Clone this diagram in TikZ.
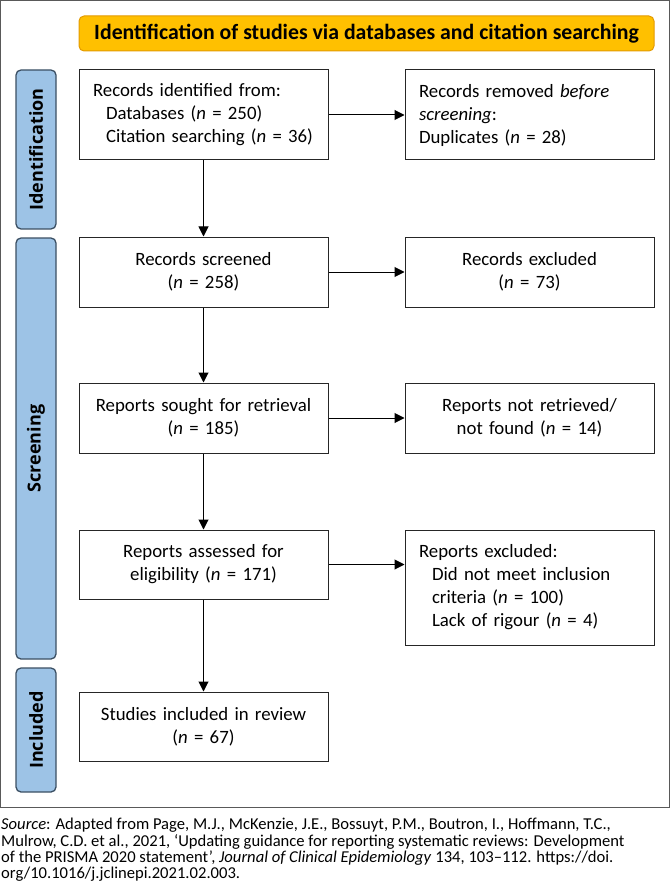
\documentclass[tikz,border=0pt]{standalone}
\usepackage{fontspec}
\setmainfont{Carlito}
\newfontfamily\barfont{Open Sans}
\usetikzlibrary{arrows.meta}
\definecolor{barfill}{HTML}{9DC3E6}
\definecolor{barline}{HTML}{3B4F63}
\definecolor{titlefill}{HTML}{FFC000}
\definecolor{titleline}{HTML}{E39A00}
\begin{document}
\begin{tikzpicture}[x=1pt,y=-1pt,
  box/.style={draw=black!85,line width=1pt,minimum width=249pt,inner xsep=14pt,inner ysep=0pt,
    font=\fontsize{18.8}{23}\selectfont},
  cbox/.style={box,align=center,text width=221pt},
  lbox/.style={box,align=left,text width=221pt},
  bar/.style={draw=barline,fill=barfill,line width=1.3pt,rounded corners=5pt,minimum width=40pt,
    inner sep=0pt},
  barlabel/.style={rotate=90,font=\barfont\bfseries\fontsize{18}{20}\selectfont},
  arr/.style={line width=1pt,-{Triangle[width=10pt,length=10pt]}}]
\useasboundingbox (0,0) rectangle (670,893);
\draw[black!65,line width=1pt] (0.5,0.5) rectangle (669.5,807);
\node[draw=titleline,fill=titlefill,line width=1pt,rounded corners=5pt,minimum width=575pt,minimum height=35pt,
  font=\bfseries\fontsize{21.8}{24}\selectfont] (title) at (366.5,33.5) {Identification of studies via databases and citation searching};
% side bars
\node[bar,minimum height=159pt] (bid) at (36,149.5) {};
\node[barlabel] (tid) at (bid.center) {Identification};
\node[bar,minimum height=421pt] (bsc) at (36,448.5) {};
\node[barlabel] (tsc) at (bsc.center) {Screening};
\node[bar,minimum height=124pt] (bin) at (36,730) {};
\node[barlabel] (tin) at (bin.center) {Included};
% boxes
\node[lbox,minimum height=90pt] (a) at (203.5,115) {Records identified from:\\\hspace*{13pt}Databases (\textit{n} = 250)\\\hspace*{13pt}Citation searching (\textit{n} = 36)};
\node[lbox,minimum height=90pt] (ar) at (529.5,115) {Records removed \textit{before}\\\textit{screening}:\\Duplicates (\textit{n} = 28)};
\node[cbox,minimum height=70pt] (b) at (203.5,272) {Records screened\\(\textit{n} = 258)};
\node[cbox,minimum height=70pt] (br) at (529.5,272) {Records excluded\\(\textit{n} = 73)};
\node[cbox,minimum height=70pt] (c) at (203.5,418) {Reports sought for retrieval\\(\textit{n} = 185)};
\node[cbox,minimum height=70pt] (cr) at (529.5,418) {Reports not retrieved/\\not found (\textit{n} = 14)};
\node[cbox,minimum height=69pt] (d) at (203.5,564.5) {Reports assessed for\\eligibility (\textit{n} = 171)};
\node[lbox,minimum height=115pt] (dr) at (529.5,587.5) {Reports excluded:\\\hspace*{13pt}Did not meet inclusion\\\hspace*{13pt}criteria (\textit{n} = 100)\\\hspace*{13pt}Lack of rigour (\textit{n} = 4)};
\node[cbox,minimum height=69pt] (e) at (203.5,726.5) {Studies included in review\\(\textit{n} = 67)};
% arrows
\draw[arr] (a) -- (b);
\draw[arr] (b) -- (c);
\draw[arr] (c) -- (d);
\draw[arr] (d) -- (e);
\draw[arr] (a.east) -- (ar.west);
\draw[arr] (b) -- (br);
\draw[arr] (c) -- (cr);
\draw[arr] (d.east) -- (d.east -| dr.west);
% source
\node[anchor=north west,inner sep=0pt,align=left,font=\fontsize{16.6}{16.4}\selectfont] (src) at (1,818)
{\textit{Source}: Adapted from Page, M.J., McKenzie, J.E., Bossuyt, P.M., Boutron, I., Hoffmann, T.C.,\\
Mulrow, C.D. et al., 2021, ‘Updating guidance for reporting systematic reviews: Development\\
of the PRISMA 2020 statement’, \textit{Journal of Clinical Epidemiology} 134, 103–112. https://doi.\\
org/10.1016/j.jclinepi.2021.02.003.};
\end{tikzpicture}
\end{document}
